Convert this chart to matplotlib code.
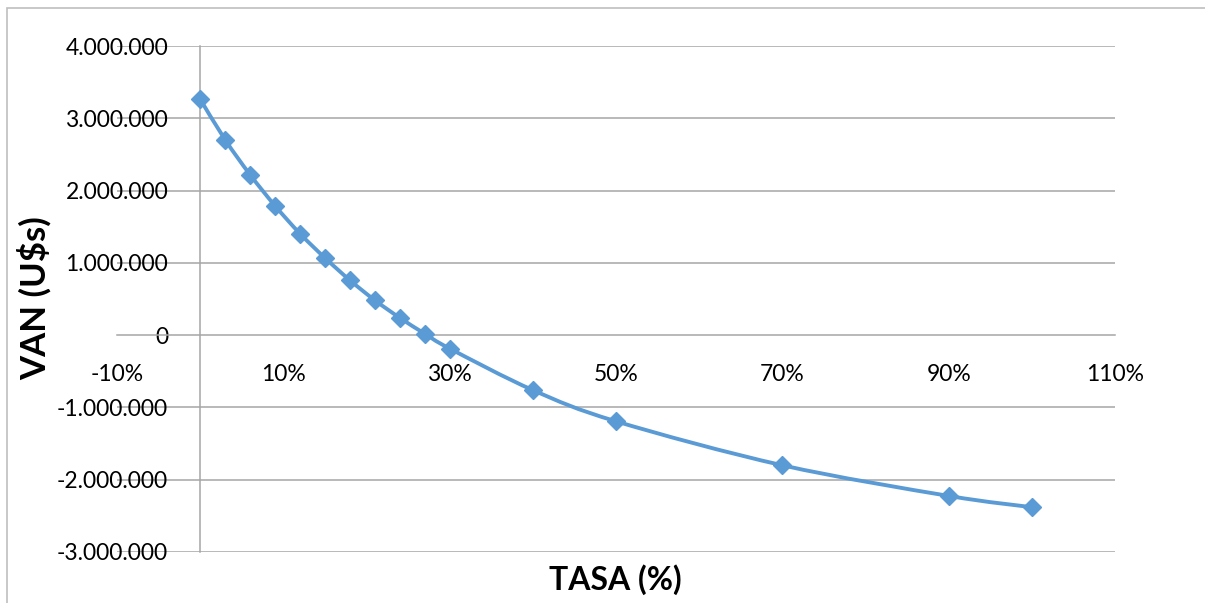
import matplotlib
matplotlib.use("Agg")
import matplotlib.pyplot as plt
from matplotlib.path import Path
from matplotlib.patches import PathPatch, Rectangle
from matplotlib.ticker import FuncFormatter, PercentFormatter
import numpy as np

# Net present value as a function of the discount rate
tasa = [0.00, 0.03, 0.06, 0.09, 0.12, 0.15, 0.18, 0.21, 0.24, 0.27, 0.30,
        0.40, 0.50, 0.70, 0.90, 1.00]
van = [3265000, 2703000, 2220000, 1790000, 1405000, 1069000, 760000, 483000,
       240000, 20000, -185000, -760000, -1192000, -1800000, -2224000, -2380000]

x_ticks = [-0.10, 0.10, 0.30, 0.50, 0.70, 0.90, 1.10]
y_ticks = [-3000000, -2000000, -1000000, 0, 1000000, 2000000, 3000000, 4000000]

LINE_COLOR = "#5B9BD5"
GRID_COLOR = "#A6A6A6"
FONT = ["Lato", "DejaVu Sans"]

plt.rcParams["font.family"] = FONT
plt.rcParams["axes.unicode_minus"] = False

fig = plt.figure(figsize=(12.05, 6.03), dpi=100)
ax = fig.add_axes([117 / 1205, 1 - 552 / 603, (1115 - 117) / 1205, (552 - 46) / 603])

ax.set_xlim(-0.10, 1.10)
ax.set_ylim(-3000000, 4000000)


def smooth_path(xs, ys, tension=1 / 6):
    """Bezier path through the points, in the style of a smoothed spreadsheet line."""
    pts = np.column_stack([xs, ys]).astype(float)
    verts = [pts[0]]
    codes = [Path.MOVETO]
    n = len(pts)
    for i in range(n - 1):
        p0 = pts[i - 1] if i > 0 else pts[i]
        p1 = pts[i]
        p2 = pts[i + 1]
        p3 = pts[i + 2] if i + 2 < n else pts[i + 1]
        c1 = p1 + (p2 - p0) * tension
        c2 = p2 - (p3 - p1) * tension
        verts += [c1, c2, p2]
        codes += [Path.CURVE4] * 3
    return Path(verts, codes)


# Horizontal gridlines
for yv in y_ticks:
    if yv != 0:
        ax.axhline(yv, color=GRID_COLOR, lw=1.1, zorder=1)

# Axes: vertical at 0 %, horizontal at VAN = 0
for side in ("top", "right"):
    ax.spines[side].set_visible(False)
ax.spines["left"].set_position(("data", 0))
ax.spines["bottom"].set_position(("data", 0))
ax.spines["left"].set_color(GRID_COLOR)
ax.spines["bottom"].set_color(GRID_COLOR)
ax.spines["left"].set_linewidth(1.1)
ax.spines["bottom"].set_linewidth(1.1)

ax.set_xticks(x_ticks)
ax.set_yticks(y_ticks)
ax.xaxis.set_major_formatter(PercentFormatter(1.0, decimals=0))
ax.yaxis.set_major_formatter(
    FuncFormatter(lambda v, _: f"{int(v):,}".replace(",", "."))
)
ax.tick_params(axis="both", length=0, labelsize=16.5, colors="black")
ax.tick_params(axis="y", pad=23)
ax.tick_params(axis="x", pad=21)

# Smoothed curve plus diamond markers
ax.add_patch(PathPatch(smooth_path(tasa, van), facecolor="none",
                       edgecolor=LINE_COLOR, lw=2.8, zorder=3,
                       capstyle="round", joinstyle="round"))
ax.plot(tasa, van, linestyle="none", marker="D", markersize=9,
        color=LINE_COLOR, zorder=4)

fig.text(615 / 1205, 1 - 580 / 603, "TASA (%)", ha="center", va="center",
         fontsize=23, fontweight="bold", family=FONT)
fig.text(35 / 1205, 1 - 298 / 603, "VAN (U$s)", ha="center", va="center",
         rotation=90, fontsize=25, fontweight="bold", family=FONT)

# Chart area border
fig.patches.append(Rectangle((7 / 1205, -0.2), 1.5, 1.2 - 8 / 603,
                             transform=fig.transFigure, facecolor="none",
                             edgecolor="#BFBFBF", lw=1.2, clip_on=False))

fig.savefig("out.png", dpi=100, facecolor="white")
